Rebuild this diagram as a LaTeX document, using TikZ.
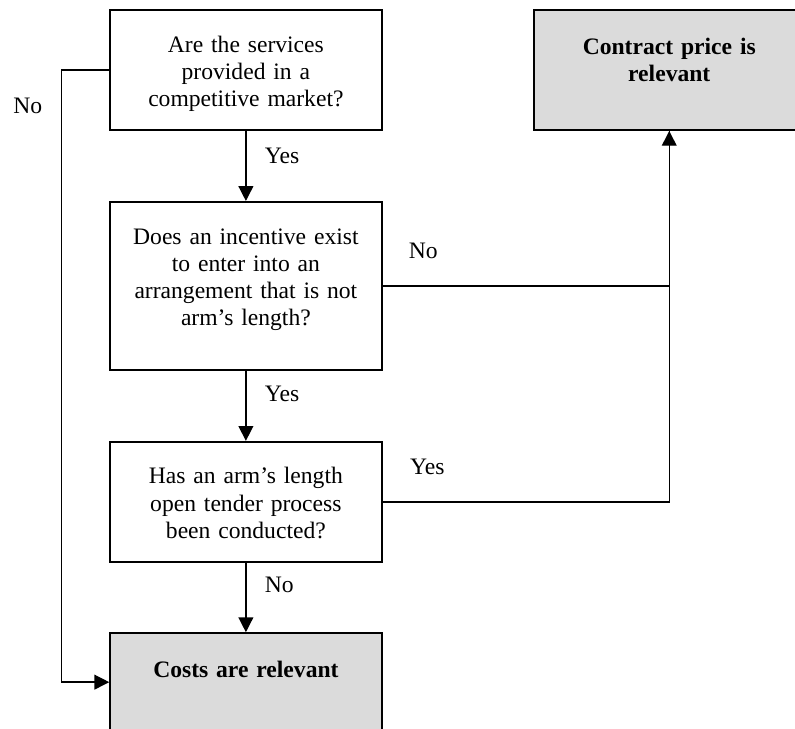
\documentclass[tikz,border=0pt]{standalone}
\usepackage{fontspec}
\setmainfont{Liberation Serif}
\usetikzlibrary{positioning, arrows.meta}

\begin{document}
\begin{tikzpicture}[->,>={Triangle[length=7.5pt,width=7.5pt]},line width=0.7pt,node distance=35.6pt,
		every node/.style={font=\fontsize{12pt}{13.8pt}\selectfont},
		question/.style={draw,line width=1pt,text width=122pt,inner xsep=8pt,inner ysep=0pt,align=center,text height=21.4pt,text depth=39.6pt},
		result/.style={question,fill=gray!28,font=\fontsize{12pt}{13.8pt}\selectfont\bfseries,text height=22.4pt}]
			\path[use as bounding box] (-125.05pt,35.6pt) rectangle ++(404.3pt,-370.7pt);
			
			\node[question] (q1) at (0,0) {Are the services\\ provided in a\\ competitive market?};
			\node[question,text depth=64pt] (q2) [below=of q1] {Does an incentive exist\\ to enter into an\\ arrangement that is not\\ arm's length?};
			\node[question] (q3) [below=of q2] {Has an arm's length\\ open tender process\\ been conducted?};
			\node[result,text depth=27.4pt] (costs) [below=35.3pt of q3] {Costs are relevant};
			\node[result,text depth=38.6pt] (price) [right=76.3pt of q1] {Contract price is\\ relevant};
			
			\path[->]
			(q1) edge node[right=6pt,pos=0.35] {Yes} (q2)
			(q2) edge node[right=6pt,pos=0.33] {Yes} (q3)
			(q3) edge node[right=6pt,pos=0.32] {No} (costs);
			
			\draw (q1.west) -- ++(-24.4pt,0) |- node[left=6pt,pos=0.029] {No} (costs.west);
			\draw (q2.east) -| node[above=10pt,pos=0.071] {No} (price.south);
			\draw[-] (q3.east) -| node[above=10pt,pos=0.078] {Yes} (price.south);
		\end{tikzpicture}
\end{document}
